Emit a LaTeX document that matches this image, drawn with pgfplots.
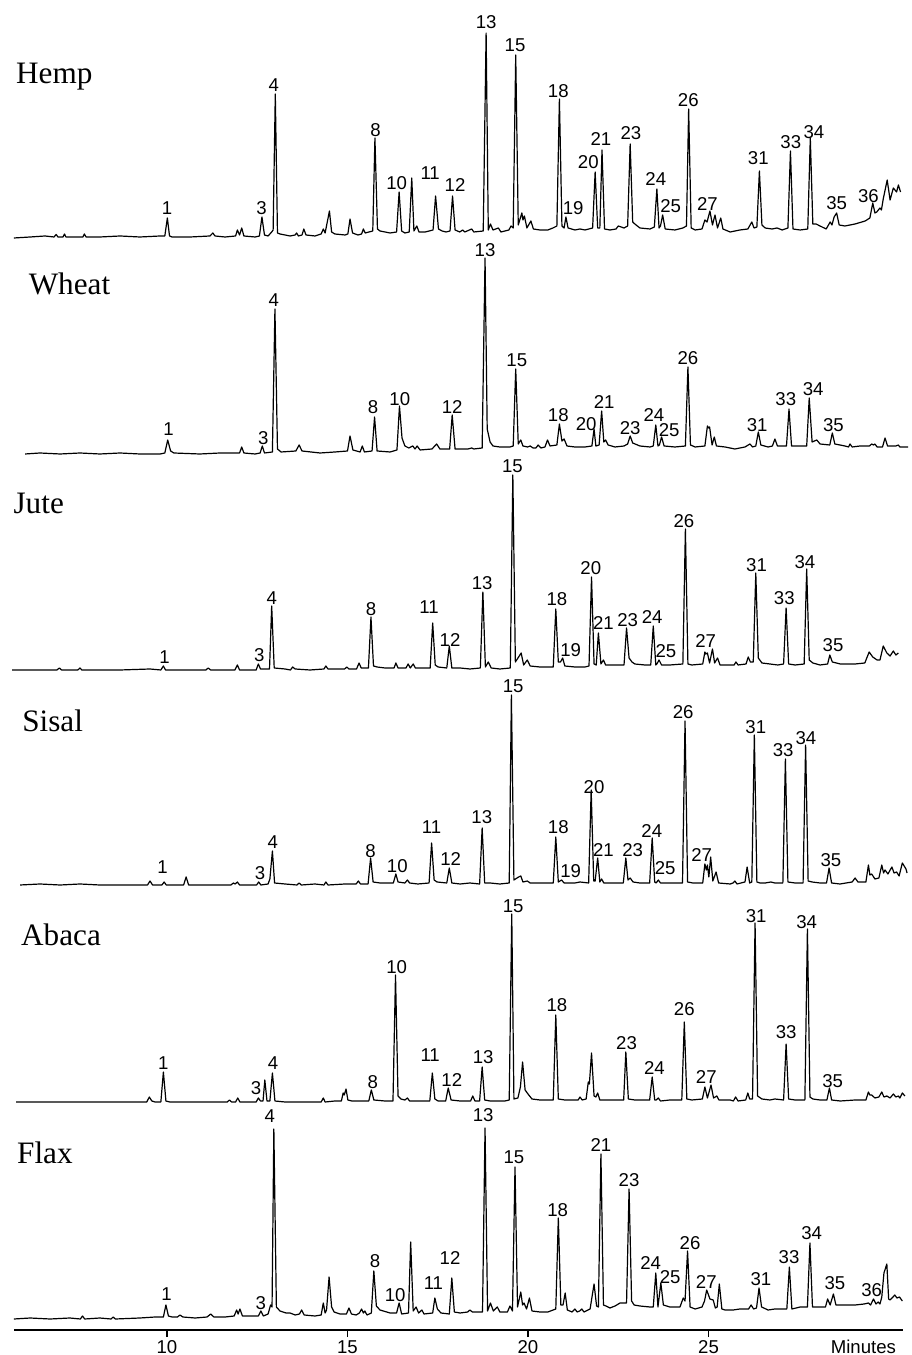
\documentclass[border=0pt]{standalone}
\usepackage{fontspec}
\setmainfont{Liberation Sans}
\newfontfamily\seriffont{Liberation Serif}
\usepackage{pgfplots}
\pgfplotsset{compat=1.18}
\newcommand\lblfont{\fontsize{9.3}{11}\selectfont}
\newcommand\namefont{\seriffont\fontsize{15.6}{18}\selectfont}
\pgfplotsset{
  trace/.style={black, line width=0.6pt, line join=round, mark=none},
  lbl/.style={only marks, mark=none, nodes near coords, point meta=explicit symbolic,
    nodes near coords align=center,
    every node near coord/.append style={font=\lblfont, inner sep=0pt, anchor=center, text=black}},
}
\begin{document}
\begin{tikzpicture}
\begin{axis}[
  at={(0,0)}, anchor=south west,
  scale only axis, width=444.5pt, height=665pt,
  xmin=5.762, xmax=30.388, ymin=0, ymax=1330,
  axis x line=bottom, axis y line=none,
  axis line style={-, line width=0.6pt},
  xtick={10,15,20,25}, xtick align=outside, major tick length=3.5pt,
  xtick style={line width=0.6pt, black},
  xticklabel style={font=\lblfont, inner sep=0pt, anchor=center, yshift=-4.9pt},
  /pgf/number format/assume math mode=true,
  clip=false,
]
% ---------------- Hemp ----------------
\addplot[trace] table[x=t, y expr=\thisrow{I}+1093] {
t I
5.76 -1
6.21 0
6.62 1
6.87 0
6.93 2.5
6.98 0
7.12 0
7.16 3
7.20 0
7.67 0
7.71 3
7.76 0
8.14 0
8.70 1
9.25 0
9.81 1
9.94 1
10.01 19
10.07 1
10.14 0
10.64 0
11.19 1
11.27 4
11.33 1
11.61 0
11.90 1
11.95 7
12.01 2
12.07 9
12.13 1
12.44 0
12.56 1
12.63 20
12.70 2
12.80 1
12.90 5
12.94 7
13.00 143
13.06 4
13.13 3
13.41 1
13.55 2
13.59 4
13.64 1
13.74 2
13.79 8
13.85 2
14.10 1
14.27 3
14.33 8
14.38 4
14.50 26
14.56 5
14.65 3
14.93 2
15.01 3
15.07 18
15.14 4
15.29 2
15.39 3
15.44 8
15.49 4
15.70 6
15.76 99
15.83 8
15.90 6
16.18 4
16.36 5
16.43 45
16.50 6
16.59 4
16.71 5
16.78 59
16.84 6
16.92 11
16.98 5
17.15 5
17.37 7
17.44 41
17.52 8
17.62 6
17.73 5
17.84 6
17.91 41
17.98 7
18.11 5
18.19 7
18.25 5
18.44 8
18.50 5
18.76 6
18.84 204
18.90 7
18.96 13
19.03 7
19.18 9
19.25 5
19.47 7
19.53 11
19.59 9
19.66 182
19.73 12
19.83 24
19.86 17
19.90 21
19.97 9
20.08 16
20.15 8
20.33 7
20.55 7
20.69 9
20.80 11
20.87 138
20.94 11
21.00 9
21.05 20
21.11 9
21.30 7
21.44 8
21.58 7
21.79 9
21.86 65
21.93 9
21.99 9
22.05 87
22.12 8
22.27 7
22.44 8
22.50 11
22.66 9
22.76 11
22.83 93
22.90 15
22.96 13
23.10 9
23.38 8
23.50 10
23.57 48
23.63 9
23.67 11
23.73 22
23.80 8
24.07 7
24.29 9
24.39 11
24.45 128
24.52 9
24.63 7
24.82 8
24.90 17
24.96 15
25.04 26
25.11 12
25.18 22
25.25 9
25.34 19
25.40 8
25.60 5
25.87 7
26.09 8
26.20 15
26.26 9
26.34 10
26.41 66
26.48 12
26.57 9
26.76 8
26.90 9
27.04 7
27.20 9
27.27 86
27.34 8
27.54 7
27.75 8
27.82 99
27.89 13
27.98 13
28.09 11
28.26 8
28.37 15
28.42 12
28.48 20
28.55 24
28.62 12
28.78 11
29.06 13
29.34 16
29.47 19
29.55 34
29.61 24
29.66 25
29.75 29
29.79 27
29.84 38
29.95 57
30.03 37
30.12 49
30.21 45
30.26 52
30.32 45
};
\addplot[lbl] table[x=t, y expr=\thisrow{I}+1093, meta=lab] {
t I lab
10.00 29 1
12.62 29 3
12.96 152 4
15.78 107 8
16.36 54 10
17.29 64 11
17.98 52 12
18.84 215 13
19.64 192 15
20.84 146 18
21.25 29 19
21.67 75 20
22.02 98 21
22.85 104 23
23.54 58 24
23.95 31 25
24.44 137 26
24.97 33 27
26.38 79 31
27.28 95 33
27.92 105 34
28.55 34 35
29.43 41 36
};
% ---------------- Wheat ----------------
\addplot[trace] table[x=t, y expr=\thisrow{I}+876] {
t I
6.07 0
6.48 1
7.04 0
7.59 1
8.14 0
8.70 1
9.25 0
9.81 0
9.94 1
10.02 14
10.10 3
10.19 1
10.91 0
11.47 1
12.01 1
12.07 7
12.13 1
12.44 0
12.58 1
12.64 8
12.70 1
12.92 2
12.99 145
13.06 5
13.16 2
13.57 3
13.66 9
13.74 3
14.24 1
14.65 2
15.00 3
15.07 18
15.15 4
15.35 2
15.41 8
15.47 2
15.68 3
15.75 37
15.82 3
16.18 2
16.37 4
16.44 48
16.51 16
16.59 8
16.70 6
16.81 8
16.87 5
16.93 8
17.01 4
17.34 5
17.47 10
17.56 5
17.83 5
17.90 39
17.98 5
18.12 5
18.34 5
18.44 6
18.50 5
18.73 6
18.81 196
18.87 25
18.95 12
19.03 8
19.22 7
19.50 7
19.59 8
19.66 85
19.73 10
19.80 14
19.86 8
19.99 7
20.06 8
20.14 6
20.22 6
20.28 9
20.36 6
20.47 7
20.54 14
20.61 8
20.80 9
20.87 30
20.94 13
21.00 15
21.08 8
21.30 7
21.58 7
21.77 8
21.83 25
21.88 8
21.97 9
22.04 43
22.10 12
22.15 14
22.22 9
22.41 7
22.66 8
22.76 10
22.83 18
22.90 11
23.10 8
23.38 7
23.47 8
23.54 29
23.60 8
23.64 9
23.70 17
23.77 8
24.07 7
24.36 8
24.43 87
24.50 9
24.63 7
24.90 8
24.97 28
25.00 26
25.03 27
25.10 9
25.16 17
25.22 8
25.46 7
25.73 5
26.01 7
26.15 10
26.22 7
26.31 8
26.38 22
26.45 9
26.65 7
26.77 8
26.84 15
26.91 8
27.16 8
27.23 45
27.30 8
27.54 8
27.72 8
27.79 56
27.87 12
28.00 14
28.09 10
28.36 9
28.43 21
28.50 10
28.78 8
28.88 7
28.92 10
28.98 7
29.20 8
29.46 8
29.52 10
29.57 9
29.61 10
29.67 7
29.82 7
29.89 16
29.96 8
30.19 8
30.26 9
30.30 7
30.53 7
};
\addplot[lbl] table[x=t, y expr=\thisrow{I}+876, meta=lab] {
t I lab
10.04 25 1
12.67 16 3
12.96 154 4
15.71 47 8
16.45 55 10
17.90 47 12
18.81 204 13
19.69 94 15
20.84 39 18
21.61 30 20
22.11 52 21
22.83 26 23
23.49 39 24
23.91 24 25
24.43 96 26
26.35 29 31
27.14 55 33
27.90 65 34
28.46 29 35
};
% ---------------- Jute ----------------
\addplot[trace] table[x=t, y expr=\thisrow{I}+660] {
t I
5.71 0
6.21 0
6.95 0
7.02 2
7.08 0
7.53 0
7.59 2
7.64 0
8.70 0
9.53 1
9.83 0
9.90 4
9.96 0
10.50 0
11.08 0
11.14 2
11.21 0
11.88 0
11.95 5
12.01 0
12.30 0
12.47 0
12.53 6
12.59 1
12.84 1
12.90 64
12.97 2
13.27 1
13.42 0
13.48 3
13.55 1
13.96 0
14.35 1
14.40 4
14.46 1
14.92 1
14.98 3
15.04 1
15.25 1
15.32 7
15.38 2
15.58 2
15.65 53
15.72 4
15.82 3
16.04 2
16.29 2
16.34 7
16.40 2
16.62 2
16.68 6
16.74 2
16.82 6
16.88 2
17.06 2
17.29 2
17.36 47
17.43 5
17.51 3
17.75 2
17.82 24
17.89 2
18.12 2
18.39 1
18.68 2
18.75 78
18.82 3
18.90 8
18.98 2
19.22 1
19.51 2
19.58 195
19.65 8
19.74 13
19.81 17
19.88 5
19.98 10
20.06 4
20.33 3
20.70 3
20.77 61
20.84 8
20.90 8
20.96 12
21.02 4
21.30 3
21.58 3
21.69 4
21.76 93
21.83 6
21.89 5
21.95 37
22.02 6
22.09 10
22.15 5
22.41 5
22.66 5
22.73 42
22.80 12
22.88 8
22.96 6
23.24 5
23.40 5
23.47 44
23.54 5
23.57 6
23.63 10
23.70 5
23.93 5
24.29 6
24.36 141
24.43 6
24.54 5
24.84 6
24.90 18
24.93 16
24.97 17
25.03 7
25.11 21
25.17 7
25.25 12
25.32 5
25.60 5
25.71 5
25.76 8
25.82 5
26.04 6
26.10 13
26.16 8
26.24 8
26.31 97
26.38 12
26.48 7
26.70 6
26.92 5
27.08 6
27.15 62
27.22 6
27.40 5
27.65 6
27.72 101
27.79 10
27.89 7
28.09 5
28.30 6
28.36 15
28.43 8
28.65 6
29.06 6
29.33 7
29.45 18
29.55 13
29.67 10
29.75 10
29.84 24
29.94 17
30.03 14
30.12 19
30.19 15
30.26 17
};
\addplot[lbl] table[x=t, y expr=\thisrow{I}+660, meta=lab] {
t I lab
9.93 13 1
12.56 15 3
12.90 72 4
15.65 61 8
17.26 63 11
17.84 30 12
18.73 87 13
19.57 204 15
20.80 71 18
21.18 20 19
21.74 102 20
22.09 47 21
22.76 50 23
23.44 53 24
23.82 19 25
24.32 149 26
24.92 29 27
26.33 105 31
27.10 72 33
27.67 108 34
28.45 25 35
};
% ---------------- Sisal ----------------
\addplot[trace] table[x=t, y expr=\thisrow{I}+445] {
t I
5.93 0
6.48 1
7.04 0
7.59 1
8.14 0
8.70 0
9.46 0
9.53 4
9.60 0
9.86 0
9.92 3
9.98 0
10.46 0
10.53 8
10.60 0
11.19 0
11.77 0
11.84 2
11.89 1
11.95 3
12.01 0
12.30 0
12.48 0
12.54 3
12.60 0
12.80 1
12.85 6
12.92 34
12.98 2
13.27 1
13.60 0
13.66 2
13.72 0
14.10 1
14.35 0
14.40 3
14.46 0
14.93 1
15.24 1
15.30 4
15.36 1
15.57 1
15.64 27
15.71 3
15.90 2
16.27 2
16.34 11
16.40 3
16.59 2
16.66 5
16.72 2
16.95 1
17.26 2
17.33 42
17.40 5
17.48 3
17.75 2
17.82 17
17.89 2
18.12 1
18.39 2
18.66 1
18.73 57
18.80 2
18.95 2
19.22 1
19.48 2
19.54 190
19.61 5
19.74 8
19.80 9
19.86 3
19.98 4
20.06 2
20.33 2
20.70 2
20.77 48
20.84 3
20.93 5
21.00 2
21.30 2
21.44 3
21.68 2
21.75 95
21.82 4
21.86 4
21.93 27
21.99 3
22.04 6
22.10 2
22.41 2
22.64 2
22.71 27
22.77 5
22.83 7
22.91 3
23.10 2
23.37 2
23.44 47
23.51 3
23.55 2
23.61 5
23.67 2
23.93 2
24.28 2
24.35 164
24.42 3
24.57 2
24.84 2
24.90 21
24.94 15
24.97 20
25.01 8
25.06 28
25.12 4
25.21 13
25.28 2
25.60 1
25.68 2
25.73 4
25.79 1
26.01 3
26.07 18
26.14 2
26.20 3
26.27 150
26.34 3
26.43 2
26.57 2
26.73 3
26.84 2
27.06 2
27.13 126
27.20 3
27.40 2
27.62 2
27.69 140
27.76 4
27.87 3
28.09 2
28.27 2
28.34 17
28.41 2
28.64 1
28.98 3
29.06 7
29.14 3
29.36 3
29.43 20
29.47 10
29.52 11
29.61 6
29.72 7
29.80 20
29.85 12
29.89 15
29.97 11
30.08 18
30.14 12
30.21 13
30.28 9
30.37 22
30.47 16
30.50 12
};
\addplot[lbl] table[x=t, y expr=\thisrow{I}+445, meta=lab] {
t I lab
9.88 18 1
12.58 12 3
12.93 43 4
15.64 34 8
16.38 19 10
17.33 58 11
17.86 26 12
18.72 68 13
19.59 199 15
20.84 58 18
21.18 14 19
21.83 98 20
22.09 35 21
22.90 35 23
23.43 54 24
23.80 17 25
24.30 173 26
24.81 30 27
26.31 158 31
27.07 135 33
27.70 147 34
28.39 25 35
};
% ---------------- Abaca ----------------
\addplot[trace] table[x=t, y expr=\thisrow{I}+228] {
t I
5.82 0
6.48 0
7.59 0
8.70 0
9.25 0
9.44 0
9.51 5
9.58 1
9.67 0
9.83 0
9.90 30
9.97 1
10.08 0
10.91 0
11.67 0
11.73 2
11.79 0
11.90 0
11.96 4
12.02 0
12.30 0
12.47 0
12.53 4
12.59 1
12.66 1
12.71 22
12.77 1
12.85 1
12.92 29
12.99 1
13.27 0
13.68 0
14.27 0
14.33 4
14.38 0
14.65 1
14.83 1
14.88 9
14.91 7
14.96 13
15.01 2
15.12 1
15.35 1
15.59 1
15.66 12
15.73 2
16.04 1
16.26 1
16.33 127
16.40 6
16.48 3
16.59 2
16.66 4
16.72 1
17.01 1
17.28 1
17.35 29
17.42 3
17.51 1
17.72 1
17.79 14
17.87 2
18.12 1
18.41 1
18.47 6
18.53 1
18.66 1
18.73 35
18.80 2
18.95 1
19.36 1
19.48 2
19.55 188
19.61 3
19.72 4
19.79 15
19.85 40
19.92 12
20.00 8
20.11 3
20.33 2
20.70 2
20.77 87
20.84 3
21.02 2
21.39 2
21.44 5
21.50 2
21.61 3
21.67 20
21.70 18
21.76 49
21.83 6
21.88 5
21.93 9
21.99 2
22.27 2
22.65 2
22.71 50
22.78 3
22.96 2
23.37 2
23.44 25
23.51 2
23.55 2
23.61 4
23.67 1
23.93 2
24.26 2
24.33 80
24.40 3
24.54 2
24.83 3
24.90 15
24.97 4
25.07 17
25.14 4
25.23 6
25.29 2
25.60 2
25.69 1
25.75 5
25.82 1
26.03 2
26.09 9
26.14 3
26.22 3
26.29 179
26.36 6
26.48 3
26.70 2
26.84 3
27.08 2
27.15 58
27.22 3
27.40 2
27.67 2
27.74 173
27.81 5
27.89 3
28.09 2
28.28 2
28.35 14
28.41 2
28.65 1
29.06 2
29.36 2
29.43 10
29.47 7
29.52 7
29.61 4
29.72 5
29.80 10
29.86 5
29.94 6
30.03 4
30.12 8
30.19 5
30.26 6
30.30 4
30.37 9
30.44 6
};
\addplot[lbl] table[x=t, y expr=\thisrow{I}+228, meta=lab] {
t I lab
9.90 39 1
12.47 14 3
12.94 39 4
15.70 20 8
16.36 135 10
17.29 47 11
17.89 22 12
18.76 45 13
19.59 196 15
20.80 97 18
22.73 59 23
23.50 34 24
24.33 93 26
24.94 25 27
26.32 186 31
27.15 70 33
27.72 180 34
28.44 21 35
};
% ---------------- Flax ----------------
\addplot[trace] table[x=t, y expr=\thisrow{I}+11] {
t I
5.76 0
6.21 1
6.76 0
7.31 1
7.60 0
7.66 3
7.72 0
8.14 1
8.45 0
8.51 2
8.57 0
9.25 1
9.67 2
9.90 2
9.97 14
10.04 3
10.14 2
10.29 2
10.36 4
10.44 2
10.78 1
11.11 2
11.21 5
11.30 2
11.61 2
11.86 3
11.93 9
11.97 5
12.02 10
12.09 3
12.30 3
12.53 3
12.60 8
12.67 3
12.80 5
12.87 14
12.91 12
12.96 190
13.03 12
13.13 8
13.30 6
13.41 6
13.55 4
13.67 5
13.73 9
13.80 4
14.10 3
14.27 4
14.33 16
14.38 6
14.42 9
14.49 42
14.56 12
14.63 7
14.79 5
14.97 5
15.04 11
15.11 5
15.24 4
15.33 6
15.39 10
15.44 6
15.48 8
15.54 4
15.66 6
15.73 48
15.80 13
15.90 9
16.18 6
16.36 6
16.43 16
16.50 5
16.69 6
16.75 77
16.82 8
16.90 12
16.97 6
17.06 9
17.12 5
17.36 6
17.42 21
17.49 10
17.59 6
17.82 5
17.89 41
17.96 7
18.12 6
18.33 7
18.39 9
18.46 7
18.74 7
18.81 191
18.88 8
18.96 16
19.04 8
19.15 12
19.22 7
19.43 7
19.50 13
19.57 8
19.64 152
19.71 12
19.80 27
19.85 14
19.89 16
19.96 10
20.04 21
20.11 8
20.33 7
20.55 7
20.77 10
20.84 101
20.91 14
20.97 14
21.03 26
21.09 9
21.22 7
21.30 10
21.36 7
21.43 8
21.49 10
21.55 7
21.72 10
21.83 35
21.90 13
21.95 12
22.02 165
22.09 14
22.16 13
22.27 11
22.41 13
22.55 16
22.73 16
22.80 130
22.87 18
22.94 14
23.10 13
23.38 12
23.47 12
23.54 46
23.60 12
23.68 36
23.75 14
23.93 12
24.21 12
24.30 21
24.35 18
24.42 68
24.49 12
24.63 10
24.82 12
24.89 18
24.95 29
25.04 20
25.13 19
25.19 11
25.24 12
25.30 35
25.37 10
25.46 9
25.68 9
25.87 10
26.11 10
26.18 14
26.25 10
26.33 11
26.40 31
26.47 12
26.65 9
26.84 10
27.17 10
27.24 52
27.31 10
27.54 12
27.74 12
27.81 76
27.88 12
28.09 12
28.24 12
28.30 20
28.37 14
28.46 25
28.53 14
28.78 14
29.06 14
29.31 15
29.43 16
29.49 14
29.57 20
29.64 15
29.70 17
29.75 15
29.80 22
29.86 46
29.94 55
29.99 20
30.03 19
30.11 22
30.16 24
30.22 21
30.29 22
30.35 19
30.37 18
};
\addplot[lbl] table[x=t, y expr=\thisrow{I}+11, meta=lab] {
t I lab
9.99 25 1
12.60 16 3
12.85 203 4
15.76 58 8
16.32 24 10
17.38 36 11
17.84 61 12
18.76 204 13
19.61 162 15
20.82 109 18
22.02 174 21
22.80 139 23
23.40 56 24
23.94 42 25
24.49 76 26
24.94 37 27
26.45 40 31
27.23 62 33
27.86 86 34
28.50 36 35
29.52 29 36
};
% sample names and axis title
\node[anchor=base west, inner sep=0pt, font=\namefont] at (axis cs:5.81,1246.7) {Hemp};
\node[anchor=base west, inner sep=0pt, font=\namefont] at (axis cs:6.16,1035.7) {Wheat};
\node[anchor=base west, inner sep=0pt, font=\namefont] at (axis cs:5.74,816) {Jute};
\node[anchor=base west, inner sep=0pt, font=\namefont] at (axis cs:5.98,598.3) {Sisal};
\node[anchor=base west, inner sep=0pt, font=\namefont] at (axis cs:5.95,384) {Abaca};
\node[anchor=base west, inner sep=0pt, font=\namefont] at (axis cs:5.84,166.7) {Flax};
\node[anchor=center, inner sep=0pt, font=\lblfont] at (axis cs:29.29,-16.7) {Minutes};
\end{axis}
\pgfresetboundingbox
\path[use as bounding box] (-7pt,-12.5pt) rectangle (448.5pt,665pt);
\end{tikzpicture}
\end{document}
